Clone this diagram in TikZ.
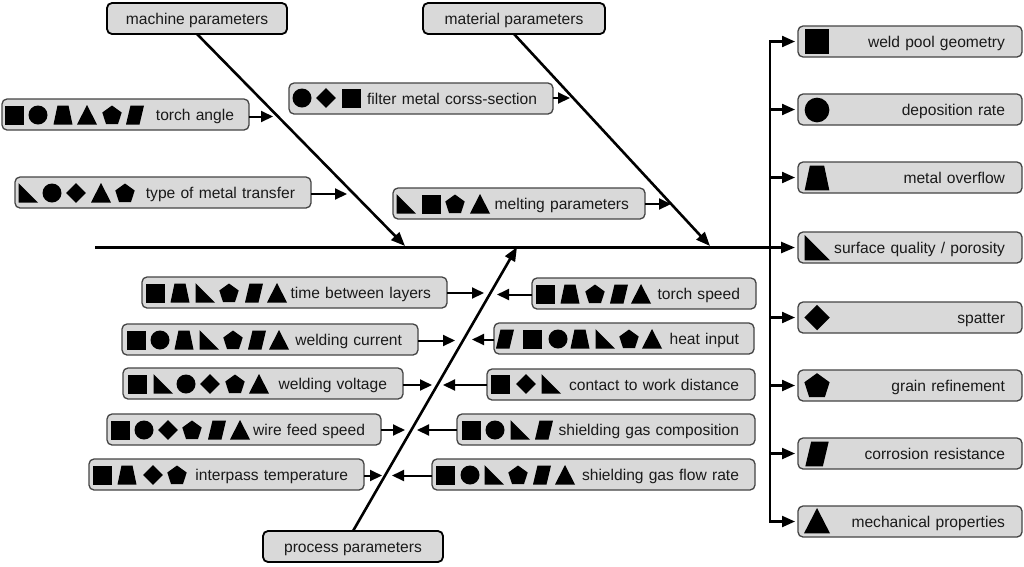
\documentclass[tikz,border=0pt]{standalone}
\usepackage{fontspec}
\setmainfont{Liberation Sans}
\usetikzlibrary{arrows.meta}
\definecolor{boxfill}{HTML}{D9D9D9}
\definecolor{boxline}{HTML}{444444}
\definecolor{inkc}{HTML}{1A1A1A}
\tikzset{
  boxbase/.style={draw=boxline,fill=boxfill,line width=1.3pt,rounded corners=5pt,outer sep=0pt,inner xsep=0pt,inner ysep=0pt,text height=13.5pt,text depth=1pt,align=right,text=inkc,font=\fontsize{15.6}{18}\selectfont,anchor=north west},
  headbox/.style={boxbase,draw=black,line width=1.8pt,align=center},
  small/.style={-{Triangle[length=12pt,width=11pt]},line width=2pt,black},
  main/.style={-{Triangle[length=14pt,width=11pt]},line width=2.6pt,black},
  bus/.style={line width=2.6pt,black},
  tap/.style={-{Triangle[length=13pt,width=11pt]},line width=2.2pt,black,shorten >=3pt},
  pics/sq/.style={code={\fill (-9.5,-9.5) rectangle (9.5,9.5);}},
  pics/ci/.style={code={\fill (0,0) circle (9.5);}},
  pics/tr/.style={code={\fill (-5.5,-9.5) -- (5.5,-9.5) -- (9.5,9.5) -- (-9.5,9.5) -- cycle;}},
  pics/ta/.style={code={\fill (0,-10) -- (10,9.5) -- (-10,9.5) -- cycle;}},
  pics/pe/.style={code={\fill (0,-9.5) -- (9.7,-2.5) -- (6,9) -- (-6,9) -- (-9.7,-2.5) -- cycle;}},
  pics/pa/.style={code={\fill (-4.5,-9.5) -- (9,-9.5) -- (4.5,9.5) -- (-9,9.5) -- cycle;}},
  pics/rt/.style={code={\fill (-9.5,-10) -- (-9.5,9.5) -- (10,9.5) -- cycle;}},
  pics/di/.style={code={\fill (0,-9.8) -- (9.8,0) -- (0,9.8) -- (-9.8,0) -- cycle;}},
}
% name, x1, y1, x2, y2, right gap, text
\newcommand\bx[7]{%
  \pgfmathsetmacro\bw{#4-#2}\pgfmathsetmacro\bh{#5-#3}\pgfmathsetmacro\tw{#4-#2-2*#6}%
  \node[boxbase,minimum width=\bw pt,minimum height=\bh pt,text width=\tw pt] (#1) at (#2,#3) {#7};}
\newcommand\hb[6]{%
  \pgfmathsetmacro\bw{#4-#2}\pgfmathsetmacro\bh{#5-#3}%
  \node[headbox,minimum width=\bw pt,minimum height=\bh pt] (#1) at (#2,#3) {#6};}
\newcommand\syms[2]{\foreach \s/\x in {#2} {\pic at (\x,#1) {\s};}}
% node, anchor, end x, end y
\newcommand\ar[4]{\coordinate (#1-end) at (#3,#4); \draw[small] (#1.#2 |- #1-end) -- (#1-end);}
\begin{document}
\begin{tikzpicture}[x=1pt,y=-1pt]
\useasboundingbox (0,0) rectangle (1024,566);
\fill[white] (0,0) rectangle (1024,566);

% output boxes
\bx{oa}{798}{26}{1022}{57}{17}{weld pool geometry}
\bx{ob}{798}{94}{1022}{125}{17}{deposition rate}
\bx{oc}{798}{162}{1022}{193}{17}{metal overflow}
\bx{od}{798}{232}{1022}{263}{17}{surface quality / porosity}
\bx{oe}{798}{302}{1022}{333}{17}{spatter}
\bx{of}{798}{370}{1022}{401}{17}{grain refinement}
\bx{og}{798}{438}{1022}{469}{17}{corrosion resistance}
\bx{oh}{798}{506}{1022}{537}{17}{mechanical properties}
\foreach \n/\s/\y in {oa/sq/41.5,ob/ci/110,oc/tr/178,od/rt/248,oe/di/317.5,of/pe/385.5,og/pa/454,oh/ta/521}
  {\pic[scale=1.3] at (817,\y) {\s};}

% spine and bus
\coordinate (spine-start) at (95,247.5);
\coordinate (bus-top) at (770,41.5);
\coordinate (bus-bottom) at (770,521.5);
\draw[bus,line cap=rect] (bus-top) -- (bus-bottom);
\draw[main,shorten >=3pt] (spine-start) -- (od.west);
\foreach \n in {oa,ob,oc,oe,of,og,oh} {\draw[tap] (bus-top |- \n.west) -- (\n.west);}

% category boxes
\hb{mach}{107}{3}{287}{34}{machine parameters}
\hb{mat}{423}{3}{605}{34}{material parameters}
\hb{proc}{263}{531}{443}{562}{process parameters}
\coordinate (mach-end) at (405,246);
\coordinate (mat-end) at (710,246);
\coordinate (proc-end) at (517,247);
\draw[main] (mach.south) -- (mach-end);
\draw[main] (mat.south) -- (mat-end);
\draw[main] (proc.north) -- (proc-end);

% upper inputs
\bx{ta}{2}{99}{249}{130}{15}{torch angle}
\syms{115}{sq/14,ci/38,tr/63,ta/87,pe/112,pa/135}
\ar{ta}{east}{273}{116.5}
\bx{mt}{15}{177}{311}{208}{16}{type of metal transfer}
\syms{193}{rt/28,ci/52,di/76,ta/101,pe/125}
\ar{mt}{east}{347}{194}
\bx{fm}{289}{83}{553}{114}{16}{filter metal corss-section}
\syms{98}{ci/302,di/326,sq/351}
\ar{fm}{east}{570}{98}
\bx{mp}{393}{188}{645}{219}{16}{melting parameters}
\syms{204}{rt/406,sq/431,pe/455,ta/480}
\ar{mp}{east}{671}{204}

% lower left inputs
\bx{tl}{142}{277}{447}{308}{16}{time between layers}
\syms{293}{sq/155,tr/180,rt/205,pe/229,pa/254,ta/277}
\ar{tl}{east}{484}{293}
\bx{wc}{122}{324}{418}{355}{16}{welding current}
\syms{340}{sq/136,ci/160,tr/184,rt/209,pe/233,pa/257,ta/279}
\ar{wc}{east}{455}{340.5}
\bx{wv}{123}{368}{403}{399}{16}{welding voltage}
\syms{384}{sq/137,rt/163,ci/186,di/210,pe/235,ta/259}
\ar{wv}{east}{432}{385}
\bx{wf}{107}{414}{381}{445}{16}{wire feed speed}
\syms{430}{sq/120,ci/144,di/168,pe/192,pa/217,ta/240}
\ar{wf}{east}{405}{430}
\bx{ip}{89}{459}{364}{490}{16}{interpass temperature}
\syms{475}{sq/102,tr/127,di/153,pe/177}
\ar{ip}{east}{382}{475.5}

% lower right inputs
\bx{ts}{532}{278}{756}{309}{16}{torch speed}
\syms{294}{sq/545,tr/570,pe/595,pa/619,ta/641}
\ar{ts}{west}{497}{294.5}
\bx{hi}{494}{323}{754}{354}{15}{heat input}
\syms{339}{pa/505,sq/532,ci/558,tr/580,rt/605,pe/629,ta/652}
\ar{hi}{west}{472}{339.5}
\bx{cw}{487}{369}{755}{400}{16}{contact to work distance}
\syms{384}{sq/500,di/526,rt/551}
\ar{cw}{west}{443}{385}
\bx{sc}{457}{414}{755}{445}{16}{shielding gas composition}
\syms{430}{sq/471,ci/495,rt/520,pa/544}
\ar{sc}{west}{417}{430}
\bx{sf}{432}{459}{755}{490}{16}{shielding gas flow rate}
\syms{475}{sq/445,ci/470,rt/494,pe/518,pa/542,ta/565}
\ar{sf}{west}{392}{475.5}
\end{tikzpicture}
\end{document}
